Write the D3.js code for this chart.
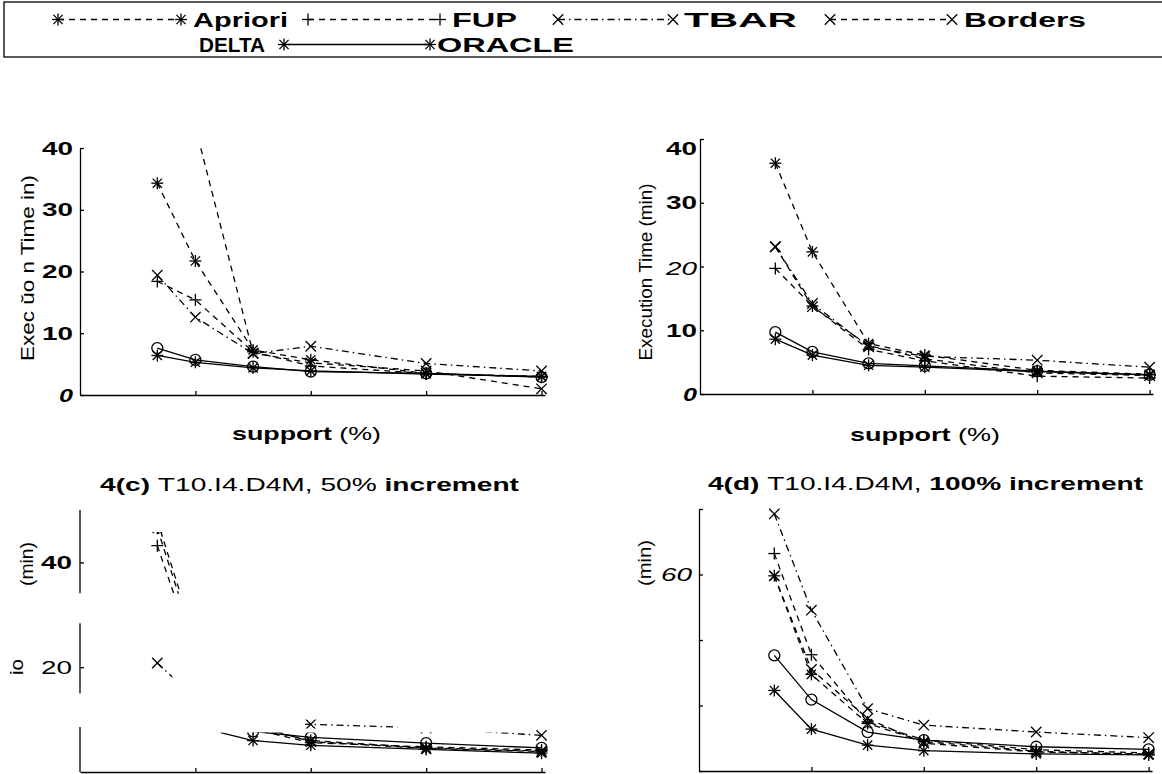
<!DOCTYPE html>
<html>
<head>
<meta charset="utf-8">
<script src="https://cdn.jsdelivr.net/npm/d3@7"></script>
<style>
  body { margin: 0; background: #fff; }
  text { font-family: "Liberation Sans", Arial, sans-serif; fill: #000; }
</style>
</head>
<body>
<svg id="fig" width="1162" height="774"></svg>
<script>
// support (%) values, shared by all four panels
var support = [0.67, 1, 1.5, 2, 3, 4];
var names = ["Apriori", "FUP", "TBAR", "Borders", "DELTA", "ORACLE"];
var xTicks = [1, 2, 3, 4];

// panel (a)
var aApriori = [34.3, 21.7, 7.3, 5.7, 3.5, 3.0];
var aFUP     = [18.4, 15.4, 7.0, 4.7, 3.5, 2.9];
var aTBAR    = [19.4, 12.6, 6.7, 7.9, 5.1, 3.9];
var aBorders = [62.0, 43.4, 6.8, 5.2, 3.9, 1.0];
var aDELTA   = [7.6, 5.7, 4.6, 3.8, 3.5, 2.9];
var aORACLE  = [6.4, 5.3, 4.4, 3.9, 3.4, 3.0];
var aYTicks  = [0, 10, 20, 30, 40];
var aYLabels = ["0", "10", "20", "30", "40"];

// panel (b)
var bApriori = [36.2, 22.3, 7.9, 6.1, 3.7, 3.1];
var bFUP     = [19.7, 13.8, 7.0, 5.2, 2.8, 2.5];
var bTBAR    = [23.1, 14.2, 7.4, 5.9, 5.3, 4.2];
var bBorders = [23.1, 13.7, 7.6, 5.5, 3.3, 2.9];
var bDELTA   = [9.7, 6.6, 4.8, 4.4, 3.6, 3.0];
var bORACLE  = [8.6, 6.1, 4.5, 4.2, 3.5, 3.0];
var bYTicks  = [0, 10, 20, 30, 40];
var bYLabels = ["0", "10", "20", "30", "40"];

// panel (c) 4(c) T10.I4.D4M, 50% increment
var cApriori = [46.5, 24.0, 8.5, 6.0, 4.6, 4.0];
var cFUP     = [43.2, 22.0, 8.2, 5.6, 4.8, 4.2];
var cTBAR    = [20.8, 14.0, 9.5, 9.1, 8.4, 7.0];
var cBorders = [48.0, 25.0, 9.0, 5.8, 4.5, 3.9];
var cDELTA   = [13.0, 9.5, 7.75, 6.6, 5.5, 4.6];
var cORACLE  = [11.0, 8.7, 6.0, 5.1, 4.3, 3.6];
var cYTicks  = [20, 40];
var cYLabels = ["20", "40"];
// parts of the scan that survived: [support from, support to, value from, value to]
var cVisible = [[0.55, 0.95, 34, 45.8], [0.58, 0.8, 17.5, 22.5], [1.22, 4.2, -1.5, 7.55],
                [1.95, 2.75, 8.3, 10], [3.75, 4.2, 6, 8]];
var cAxisParts = [[0, 8.6], [15, 28.4], [34.1, 50]];

// panel (d) 4(d) T10.I4.D4M, 100% increment
var dApriori = [59.6, 29.5, 14.5, 9.0, 6.0, 5.0];
var dFUP     = [66.4, 35.5, 15.0, 9.5, 6.5, 5.5];
var dTBAR    = [78.5, 49.1, 19.0, 14.0, 11.9, 10.2];
var dBorders = [59.6, 31.0, 16.0, 8.5, 5.8, 5.2];
var dDELTA   = [35.3, 21.8, 11.9, 9.4, 7.4, 6.6];
var dORACLE  = [24.6, 12.8, 7.9, 6.2, 5.2, 4.9];
var dYTicks  = [0, 20, 40, 60, 80];
var dYLabels = ["", "", "", "60", ""];

var look = {
    Apriori: { dash: "6,5", marker: "star" },
    FUP:     { dash: "6,5", marker: "plus" },
    TBAR:    { dash: "7,4,1.5,4", marker: "cross" },
    Borders: { dash: "6,5", marker: "cross" },
    DELTA:   { dash: null, marker: "circle" },
    ORACLE:  { dash: null, marker: "star" }
};

var panels = [
    { key: "a", left: 80, right: 545, top: 148, bottom: 395, yMax: 40, labelX: 73,
      series: [aApriori, aFUP, aTBAR, aBorders, aDELTA, aORACLE], yTicks: aYTicks, yLabels: aYLabels,
      tickStyle: function (t) { return t === "0" ? "bi" : "b"; } },
    { key: "b", left: 700, right: 1153, top: 139, bottom: 394, yMax: 40, labelX: 697,
      series: [bApriori, bFUP, bTBAR, bBorders, bDELTA, bORACLE], yTicks: bYTicks, yLabels: bYLabels,
      tickStyle: function (t) { return t === "0" ? "bi" : (t === "20" ? "i" : "b"); },
      labelShift: { "40": 9, "20": 2 } },
    { key: "c", left: 80, right: 545, top: 510, bottom: 772, yMax: 50, labelX: 72,
      series: [cApriori, cFUP, cTBAR, cBorders, cDELTA, cORACLE], yTicks: cYTicks, yLabels: cYLabels,
      visible: cVisible, axisParts: cAxisParts,
      tickStyle: function (t) { return t === "40" ? "b" : "n"; } },
    { key: "d", left: 699, right: 1152, top: 509, bottom: 771, yMax: 80, labelX: 692,
      series: [dApriori, dFUP, dTBAR, dBorders, dDELTA, dORACLE], yTicks: dYTicks, yLabels: dYLabels,
      tickStyle: function (t) { return "i"; } }
];

var svg = d3.select("#fig");
var defs = svg.append("defs");

function drawMarker(g, type, cx, cy) {
    if (type === "circle") {
        g.append("circle").attr("cx", cx).attr("cy", cy).attr("r", 5.5)
            .attr("fill", "none").attr("stroke", "#000").attr("stroke-width", 1.3);
        return;
    }
    var segs = [];
    var r = 6;
    if (type === "plus" || type === "star") {
        segs.push([cx - r, cy, cx + r, cy], [cx, cy - r, cx, cy + r]);
    }
    if (type === "cross" || type === "star") {
        var k = type === "star" ? 4.6 : 5.2;
        segs.push([cx - k, cy - k, cx + k, cy + k], [cx - k, cy + k, cx + k, cy - k]);
    }
    segs.forEach(function (s) {
        g.append("line").attr("x1", s[0]).attr("y1", s[1]).attr("x2", s[2]).attr("y2", s[3])
            .attr("stroke", "#000").attr("stroke-width", 1.3);
    });
}

function addText(g, x, y, parts, width, anchor) {
    var t = g.append("text").attr("x", x).attr("y", y)
        .attr("text-anchor", anchor || "start");
    parts.forEach(function (p) {
        t.append("tspan").text(p[0])
            .attr("font-weight", p[1].indexOf("b") >= 0 ? "bold" : "normal")
            .attr("font-style", p[1].indexOf("i") >= 0 ? "italic" : "normal")
            .attr("font-size", p[2] || 19);
    });
    if (width) {
        t.attr("textLength", width).attr("lengthAdjust", "spacingAndGlyphs");
    }
    return t;
}

panels.forEach(function (p) {
    var x = d3.scaleLinear().domain([0, 4.03]).range([p.left, p.right]);
    var y = d3.scaleLinear().domain([0, p.yMax]).range([p.bottom, p.top]);
    var g = svg.append("g").attr("class", "panel-" + p.key);

    // axes, ticks point inward like the original
    var yAxis = g.append("g").attr("transform", "translate(" + p.left + ",0)")
        .call(d3.axisLeft(y).tickValues(p.yTicks).tickSize(-4).tickSizeOuter(0).tickFormat(""));
    g.append("g").attr("transform", "translate(0," + p.bottom + ")")
        .call(d3.axisBottom(x).tickValues(xTicks).tickSize(-4).tickSizeOuter(0).tickFormat(""));
    g.selectAll(".domain, .tick line").attr("stroke", "#000").attr("stroke-width", 1.3);

    if (p.axisParts) {
        yAxis.select(".domain").remove();
        p.axisParts.forEach(function (a) {
            g.append("line").attr("x1", p.left).attr("x2", p.left)
                .attr("y1", y(a[0])).attr("y2", y(a[1]))
                .attr("stroke", "#000").attr("stroke-width", 1.3);
        });
    }

    // tick labels
    p.yTicks.forEach(function (v, i) {
        var lab = p.yLabels[i];
        if (!lab) return;
        var st = p.tickStyle(lab);
        var shift = (p.labelShift && p.labelShift[lab]) || 0;
        addText(g, p.labelX, y(v) + 6.5 + shift, [[lab, st, 18]], lab.length === 1 ? 14 : 31, "end");
    });

    // clip region: whole plot, or only the surviving parts of the scan
    var wins = p.visible || [[-0.05, 4.3, -1.6, p.yMax]];
    var clip = defs.append("clipPath").attr("id", "clip-" + p.key);
    wins.forEach(function (w) {
        clip.append("rect")
            .attr("x", x(w[0])).attr("width", x(w[1]) - x(w[0]))
            .attr("y", y(w[3])).attr("height", y(w[2]) - y(w[3]));
    });

    var line = d3.line()
        .x(function (d) { return x(d[0]); })
        .y(function (d) { return y(d[1]); });

    var lines = g.append("g").attr("clip-path", "url(#clip-" + p.key + ")");
    var marks = g.append("g");
    if (p.visible) marks.attr("clip-path", "url(#clip-" + p.key + ")");

    p.series.forEach(function (vals, i) {
        var st = look[names[i]];
        var pts = d3.zip(support, vals);
        lines.append("path").datum(pts)
            .attr("d", line)
            .attr("fill", "none")
            .attr("stroke", "#000")
            .attr("stroke-width", 1.3)
            .attr("stroke-dasharray", st.dash);
        pts.forEach(function (d) {
            if (d[1] > p.yMax) return;
            drawMarker(marks, st.marker, x(d[0]), y(d[1]));
        });
    });
});

// axis titles and panel titles
var txt = svg.append("g");
addText(txt, 232, 440, [["support", "b", 19], [" (%)", "n", 19]], 149);
addText(txt, 850, 441, [["support", "b", 19], [" (%)", "n", 19]], 150);
addText(txt, 100, 491, [["4(c) ", "b", 19], ["T10.I4.D4M, 50% ", "n", 19], ["increment", "b", 19]], 419);
addText(txt, 708, 490, [["4(d) ", "b", 19], ["T10.I4.D4M, ", "n", 19], ["100% increment", "b", 19]], 435);

function rotLabel(cx, cy, str, len) {
    var t = txt.append("text")
        .attr("transform", "translate(" + cx + "," + cy + ") rotate(-90)")
        .attr("text-anchor", "middle")
        .attr("font-size", 19)
        .text(str);
    if (len) t.attr("textLength", len).attr("lengthAdjust", "spacingAndGlyphs");
}
rotLabel(34, 268, "Exec \u016do n Time   in)", 186);
rotLabel(652, 272, "Execution Time (min)", 177);
rotLabel(33, 564, "(min)", 44);
rotLabel(23, 667, "io", 16);
rotLabel(651, 563, "(min)", 46);

// legend
var leg = svg.append("g");
leg.append("rect").attr("x", 4).attr("y", 2).attr("width", 1170).attr("height", 55)
    .attr("fill", "none").attr("stroke", "#000").attr("stroke-width", 1.3);
var legendItems = [
    { name: "Apriori", row: 0, m0: 58, m1: 181, tx: 193, tw: 95 },
    { name: "FUP", row: 0, m0: 308, m1: 440, tx: 452, tw: 65 },
    { name: "TBAR", row: 0, m0: 558, m1: 673, tx: 684, tw: 113 },
    { name: "Borders", row: 0, m0: 830, m1: 952, tx: 964, tw: 122 },
    { name: "DELTA", row: 1, m0: null, m1: null, tx: 199, tw: 66 },
    { name: "ORACLE", row: 1, m0: 284, m1: 430, tx: 437, tw: 137 }
];
legendItems.forEach(function (it) {
    var cy = it.row === 0 ? 19.5 : 44.5;
    var st = look[it.name];
    if (it.m0 !== null) {
        leg.append("line").attr("x1", it.m0).attr("x2", it.m1).attr("y1", cy).attr("y2", cy)
            .attr("stroke", "#000").attr("stroke-width", 1.3).attr("stroke-dasharray", st.dash);
        drawMarker(leg, st.marker, it.m0, cy);
        drawMarker(leg, st.marker, it.m1, cy);
    }
    addText(leg, it.tx, cy + 7, [[it.name, "b", 20]], it.tw);
});
</script>
</body>
</html>
